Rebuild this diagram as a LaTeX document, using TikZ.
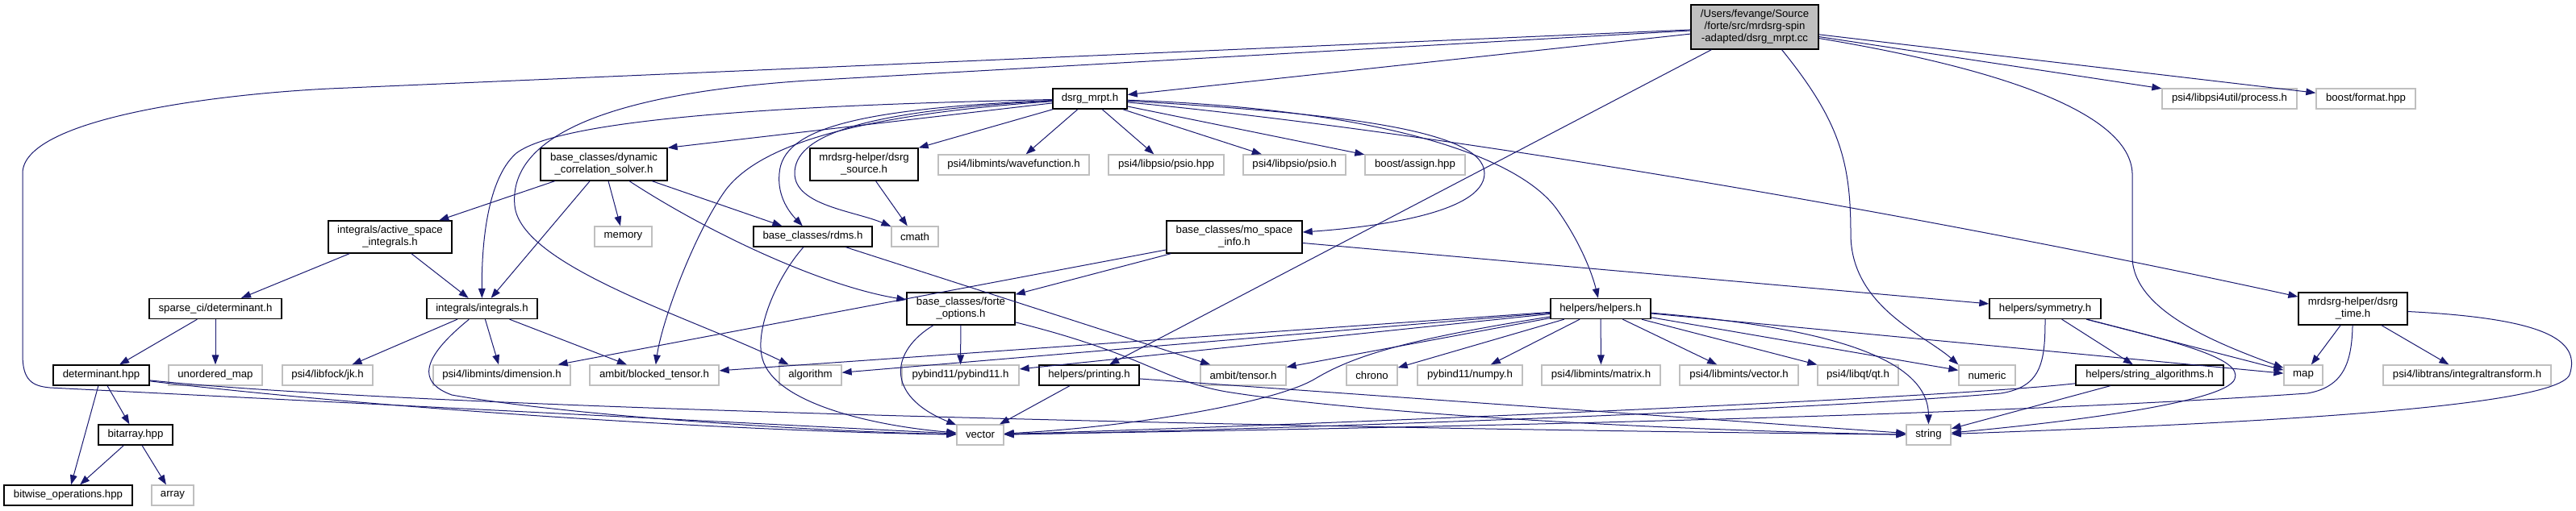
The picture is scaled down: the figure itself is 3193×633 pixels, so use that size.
\documentclass[tikz,border=0pt]{standalone}
\usepackage{fontspec}
\usepackage{tikz}
\usetikzlibrary{arrows.meta}
\setmainfont{Liberation Sans}
\definecolor{edgeblue}{HTML}{191970}
\definecolor{extgray}{HTML}{BFBFBF}
\tikzset{hdr/.style={rectangle,draw=black,fill=white,line width=1pt,
 minimum height=18.75pt,inner sep=0pt,align=center,text=black,
 font=\fontsize{9.9}{11.25}\selectfont},
 sys/.style={hdr,draw=extgray},
 src/.style={hdr,fill=extgray},
 bw/.style={minimum width=#1*.75pt},
 two/.style={minimum height=30pt},
 three/.style={minimum height=41.25pt},
 inc/.style={draw=edgeblue,line width=.75pt,-{Triangle[length=9pt,width=6.5pt]}}}

\begin{document}
\begin{tikzpicture}[x=.75pt,y=-.75pt]
 \useasboundingbox (0,0) rectangle (3193,633);
 % top rows
 \node[src,bw=158,three] (cc) at (2175,33.5) {/Users/fevange/Source\\/forte/src/mrdsrg-spin\\-adapted/dsrg\_mrpt.cc};
 \node[hdr,bw=92] (dsrgh) at (1351,122.5) {dsrg\_mrpt.h};
 \node[sys,bw=167] (process) at (2763.5,122.5) {psi4/libpsi4util/process.h};
 \node[sys,bw=123] (format) at (2932.5,122.5) {boost/format.hpp};
 \node[hdr,bw=157,two] (dyn) at (748.5,204) {base\_classes/dynamic\\\_correlation\_solver.h};
 \node[hdr,bw=134,two] (source) at (1071,204) {mrdsrg-helper/dsrg\\\_source.h};
 \node[sys,bw=187] (wfn) at (1256.5,204.5) {psi4/libmints/wavefunction.h};
 \node[sys,bw=143] (psiohpp) at (1445.5,204.5) {psi4/libpsio/psio.hpp};
 \node[sys,bw=127] (psioh) at (1604.5,204.5) {psi4/libpsio/psio.h};
 \node[sys,bw=124] (assign) at (1754,204.5) {boost/assign.hpp};
 \node[hdr,bw=153,two] (active) at (483.5,294) {integrals/active\_space\\\_integrals.h};
 \node[sys,bw=71] (memory) at (772.5,293.5) {memory};
 \node[hdr,bw=147] (rdms) at (1007.5,293.5) {base\_classes/rdms.h};
 \node[sys,bw=58] (cmath) at (1134,293.5) {cmath};
 \node[hdr,bw=168,two] (mospace) at (1530,294) {base\_classes/mo\_space\\\_info.h};
 \node[hdr,bw=164] (sparsedet) at (267,383) {sparse\_ci/determinant.h};
 \node[hdr,bw=137] (integrals) at (597.5,383) {integrals/integrals.h};
 \node[hdr,bw=134,two] (forte) at (1191,383) {base\_classes/forte\\\_options.h};
 \node[hdr,bw=124] (helpers) at (1984,383) {helpers/helpers.h};
 \node[hdr,bw=138] (symmetry) at (2535,383) {helpers/symmetry.h};
 \node[hdr,bw=135,two] (dsrgtime) at (2916.5,383) {mrdsrg-helper/dsrg\\\_time.h};
 % leaf row
 \node[hdr,bw=119] (dethpp) at (125.5,465.5) {determinant.hpp};
 \node[sys,bw=116] (unordmap) at (267,465.5) {unordered\_map};
 \node[sys,bw=112] (jk) at (406,465.5) {psi4/libfock/jk.h};
 \node[sys,bw=170] (dimension) at (622,465.5) {psi4/libmints/dimension.h};
 \node[sys,bw=160] (blocked) at (811,465.5) {ambit/blocked\_tensor.h};
 \node[sys,bw=77] (algorithm) at (1004.5,465.5) {algorithm};
 \node[sys,bw=145] (pybind) at (1190.5,465.5) {pybind11/pybind11.h};
 \node[hdr,bw=124] (printing) at (1350,465.5) {helpers/printing.h};
 \node[sys,bw=106] (tensor) at (1541,465.5) {ambit/tensor.h};
 \node[sys,bw=63] (chrono) at (1700.5,465.5) {chrono};
 \node[sys,bw=130] (numpy) at (1822,465.5) {pybind11/numpy.h};
 \node[sys,bw=147] (matrix) at (1984.5,465.5) {psi4/libmints/matrix.h};
 \node[sys,bw=147] (psivec) at (2155.5,465.5) {psi4/libmints/vector.h};
 \node[sys,bw=100] (qt) at (2303,465.5) {psi4/libqt/qt.h};
 \node[sys,bw=70] (numeric) at (2463,465.5) {numeric};
 \node[hdr,bw=183] (stralg) at (2664.5,465.5) {helpers/string\_algorithms.h};
 \node[sys,bw=48] (map) at (2855,465.5) {map};
 \node[sys,bw=208] (inttrans) at (3058,465.5) {psi4/libtrans/integraltransform.h};
 \node[hdr,bw=92] (bitarray) at (168,539.5) {bitarray.hpp};
 \node[sys,bw=58] (vector) at (1215,539.5) {vector};
 \node[sys,bw=55] (string) at (2390.5,539.5) {string};
 \node[hdr,bw=159] (bitwise) at (84.5,614.5) {bitwise\_operations.hpp};
 \node[sys,bw=52] (array) at (214,614.5) {array};

 % includes of dsrg_mrpt.cc
 \draw[inc] (cc) -- (dsrgh);
 \draw[inc] (cc) -- (process);
 \draw[inc] (cc) -- (format);
 \draw[inc] (cc) -- (printing);
 \draw[inc] (cc) -- (408,110) .. controls (250,118) and (28,150) .. (28,215) -- (28,440)
  .. controls (28,472) and (40,479) .. (62,481) -- (vector);
 \draw[inc] (cc) -- (1000,100) .. controls (700,120) and (632,190) .. (638,255)
  .. controls (645,330) and (860,395) .. (algorithm);
 \draw[inc] (cc.-40) .. controls (2280,150) and (2294,200) .. (2294,290)
  .. controls (2294,380) and (2385,415) .. (numeric.north west);
 \draw[inc] (cc.-10) .. controls (2480,85) and (2640,140) .. (2643,215) -- (2643,320)
  .. controls (2645,385) and (2745,425) .. (map);

 % includes of dsrg_mrpt.h
 \draw[inc] (dsrgh) -- (dyn.north east);
 \draw[inc] (dsrgh) -- (source.north east);
 \draw[inc] (dsrgh) -- (wfn);
 \draw[inc] (dsrgh) -- (psiohpp);
 \draw[inc] (dsrgh) -- (psioh);
 \draw[inc] (dsrgh) -- (assign);
 \draw[inc] (dsrgh) .. controls (1000,130) and (700,145) .. (640,190)
  .. controls (600,225) and (597,320) .. (integrals);
 \draw[inc] (dsrgh) .. controls (1100,140) and (950,170) .. (900,235)
  .. controls (860,290) and (820,400) .. (blocked);
 \draw[inc] (dsrgh) .. controls (1060,135) and (970,160) .. (966,215)
  .. controls (963,245) and (980,265) .. (rdms);
 \draw[inc] (dsrgh) .. controls (1060,138) and (985,170) .. (985,215)
  .. controls (985,255) and (1060,262) .. (cmath);
 \draw[inc] (dsrgh) .. controls (1650,140) and (1840,160) .. (1840,215)
  .. controls (1840,265) and (1700,282) .. (mospace);
 \draw[inc] (dsrgh) .. controls (1700,135) and (1880,190) .. (1930,260)
  .. controls (1962,305) and (1975,345) .. (helpers);
 \draw[inc] (dsrgh) .. controls (1800,165) and (2400,270) .. (dsrgtime);

 % second level
 \draw[inc] (dyn) -- (active);
 \draw[inc] (dyn) -- (integrals);
 \draw[inc] (dyn) -- (memory);
 \draw[inc] (dyn) -- (rdms);
 \draw[inc] (dyn) .. controls (880,290) and (1020,355) .. (forte);
 \draw[inc] (source) -- (cmath);
 \draw[inc] (active) -- (sparsedet);
 \draw[inc] (active) -- (integrals);
 \draw[inc] (sparsedet) -- (dethpp);
 \draw[inc] (sparsedet) -- (unordmap);
 \draw[inc] (integrals) -- (jk);
 \draw[inc] (integrals) -- (dimension);
 \draw[inc] (integrals) -- (blocked);
 \draw[inc] (integrals) .. controls (540,430) and (505,470) .. (560,490)
  .. controls (700,515) and (1000,535) .. (vector);
 \draw[inc] (dethpp) -- (bitarray);
 \draw[inc] (dethpp) -- (bitwise);
 \draw[inc] (dethpp) .. controls (450,505) and (900,535) .. (vector);
 \draw[inc] (dethpp) .. controls (500,505) and (1500,530) .. (string);
 \draw[inc] (bitarray) -- (bitwise);
 \draw[inc] (bitarray) -- (array);
 \draw[inc] (rdms) -- (tensor);
 \draw[inc] (rdms) .. controls (962,345) and (935,410) .. (945,445)
  .. controls (960,500) and (1080,528) .. (vector);
 \draw[inc] (mospace) -- (forte);
 \draw[inc] (mospace) -- (dimension);
 \draw[inc] (mospace) -- (symmetry);
 \draw[inc] (forte) -- (pybind);
 \draw[inc] (forte) .. controls (1105,435) and (1095,490) .. (vector);
 \draw[inc] (forte) .. controls (1420,440) and (1440,472) .. (1520,486)
  .. controls (1700,515) and (2100,535) .. (string);
 \draw[inc] (printing) -- (vector);
 \draw[inc] (printing) -- (string);

 % helpers
 \draw[inc] (helpers) -- (blocked);
 \draw[inc] (helpers) -- (algorithm);
 \draw[inc] (helpers) -- (pybind);
 \draw[inc] (helpers) -- (tensor);
 \draw[inc] (helpers) -- (chrono);
 \draw[inc] (helpers) -- (numpy);
 \draw[inc] (helpers) -- (matrix);
 \draw[inc] (helpers) -- (psivec);
 \draw[inc] (helpers) -- (qt);
 \draw[inc] (helpers) -- (numeric);
 \draw[inc] (helpers) -- (map);
 \draw[inc] (helpers) .. controls (1750,420) and (1680,440) .. (1630,470)
  .. controls (1580,500) and (1400,530) .. (vector);
 \draw[inc] (helpers) .. controls (2250,405) and (2390,440) .. (string);
 \draw[inc] (symmetry) -- (stralg);
 \draw[inc] (symmetry) -- (map);
 \draw[inc] (symmetry) .. controls (2535,450) and (2530,480) .. (2480,488)
  .. controls (2200,512) and (1500,535) .. (vector);
 \draw[inc] (symmetry) .. controls (2700,425) and (2780,445) .. (2770,470)
  .. controls (2760,500) and (2550,525) .. (string);
 \draw[inc] (stralg) -- (string);
 \draw[inc] (stralg) .. controls (2400,495) and (1600,528) .. (vector);
 \draw[inc] (dsrgtime) -- (map);
 \draw[inc] (dsrgtime) -- (inttrans);
 \draw[inc] (dsrgtime) .. controls (3150,395) and (3200,420) .. (3185,465)
  .. controls (3165,510) and (2700,528) .. (string);
 \draw[inc] (dsrgtime) .. controls (2915,450) and (2905,480) .. (2860,488)
  .. controls (2400,520) and (1600,533) .. (vector);
\end{tikzpicture}
\end{document}
